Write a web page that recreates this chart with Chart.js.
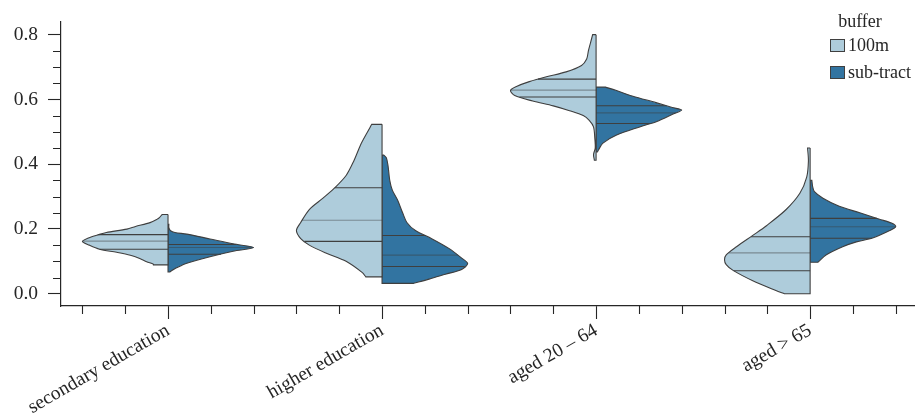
<!DOCTYPE html>
<html>
<head>
<meta charset="utf-8">
<script src="https://cdn.jsdelivr.net/npm/chart.js@4.4.1/dist/chart.umd.min.js"></script>
<style>
  html, body { margin: 0; padding: 0; background: #fff; }
</style>
</head>
<body>
<canvas id="violinChart" width="915" height="415"></canvas>
<script>
const categories = ["secondary education", "higher education", "aged 20 – 64", "aged > 65"];
const groups = ["100m", "sub-tract"];
const yTicks = [0.0, 0.2, 0.4, 0.6, 0.8];

// outline of each half violin, top to bottom: heights and relative density width (1 = widest)
const y100m = [
  [0.2445, 0.235, 0.2295, 0.2195, 0.2075, 0.1995, 0.189, 0.1824, 0.172, 0.1615, 0.150, 0.1374, 0.128, 0.119, 0.109, 0.099, 0.091, 0.089],
  [0.523, 0.490, 0.460, 0.410, 0.365, 0.325, 0.295, 0.260, 0.220, 0.195, 0.170, 0.150, 0.125, 0.100, 0.065, 0.052],
  [0.80, 0.77, 0.75, 0.725, 0.705, 0.685, 0.67, 0.655, 0.64, 0.628, 0.612, 0.595, 0.58, 0.565, 0.55, 0.535, 0.515, 0.48, 0.45, 0.43, 0.412],
  [0.45, 0.41, 0.36, 0.31, 0.26, 0.21, 0.18, 0.145, 0.12, 0.105, 0.09, 0.072, 0.04, 0.01, 0.0]
];
const w100m = [
  [0.07, 0.10, 0.13, 0.21, 0.38, 0.48, 0.72, 0.81, 0.93, 1.00, 0.92, 0.80, 0.60, 0.44, 0.33, 0.25, 0.17, 0.17],
  [0.12, 0.19, 0.25, 0.33, 0.42, 0.56, 0.69, 0.85, 0.95, 1.00, 0.95, 0.85, 0.65, 0.42, 0.23, 0.19],
  [0.04, 0.07, 0.09, 0.11, 0.17, 0.35, 0.58, 0.78, 0.93, 1.00, 0.95, 0.74, 0.50, 0.31, 0.15, 0.08, 0.03, 0.015, 0.01, 0.03, 0.02],
  [0.03, 0.02, 0.04, 0.12, 0.28, 0.51, 0.67, 0.86, 0.98, 1.00, 0.98, 0.90, 0.67, 0.40, 0.30]
];
const ySubTract = [
  [0.214, 0.204, 0.1944, 0.189, 0.184, 0.169, 0.154, 0.1425, 0.131, 0.114, 0.094, 0.080, 0.074, 0.067],
  [0.428, 0.42, 0.395, 0.35, 0.32, 0.29, 0.25, 0.22, 0.195, 0.17, 0.14, 0.11, 0.093, 0.075, 0.06, 0.045, 0.032],
  [0.638, 0.628, 0.61, 0.59, 0.575, 0.567, 0.555, 0.532, 0.515, 0.49, 0.465, 0.445, 0.438],
  [0.35, 0.33, 0.315, 0.295, 0.27, 0.25, 0.23, 0.218, 0.207, 0.195, 0.172, 0.16, 0.145, 0.12, 0.097]
];
const wSubTract = [
  [0.01, 0.01, 0.03, 0.08, 0.22, 0.49, 0.76, 1.00, 0.76, 0.49, 0.22, 0.10, 0.06, 0.02],
  [0.02, 0.05, 0.07, 0.09, 0.12, 0.18, 0.24, 0.29, 0.39, 0.58, 0.78, 0.93, 1.00, 0.93, 0.74, 0.55, 0.37],
  [0.11, 0.23, 0.43, 0.70, 0.89, 1.00, 0.90, 0.71, 0.51, 0.24, 0.08, 0.03, 0.015],
  [0.02, 0.03, 0.05, 0.15, 0.34, 0.58, 0.81, 0.95, 1.00, 0.93, 0.73, 0.54, 0.38, 0.19, 0.09]
];
// quartiles [q1, median, q3]
const quart100m = [[0.1374, 0.1624, 0.1824], [0.1615, 0.227, 0.327], [0.6075, 0.6286, 0.6626], [0.071, 0.126, 0.176]];
const quartSubTract = [[0.122, 0.1425, 0.152], [0.084, 0.119, 0.1795], [0.5254, 0.5585, 0.5805], [0.1714, 0.2066, 0.2326]];

const fillColors = ["#aeccdb", "#3274a1"];
const edge = "#3f3f3f";
const ink = "#262626";
const serif = "'Liberation Serif', 'Times New Roman', serif";
const halfWidth = 0.4;

// corners are given twice so the smoothed line keeps them sharp
function outline(ci, side, ys, ws) {
  const last = ys.length - 1;
  const top = {x: ci, y: ys[0]};
  const bottom = {x: ci, y: ys[last]};
  const pts = [top, top];
  ys.forEach((y, k) => {
    const p = {x: ci + side * halfWidth * ws[k], y: y};
    pts.push(p);
    if (k === 0 || k === last) pts.push(p);
  });
  pts.push(bottom, bottom, top);
  return pts;
}

function widthAt(ys, ws, q) {
  for (let k = 0; k < ys.length - 1; k++) {
    if (ys[k] >= q && q >= ys[k + 1]) {
      const t = (ys[k] - q) / (ys[k] - ys[k + 1] || 1);
      return ws[k] + t * (ws[k + 1] - ws[k]);
    }
  }
  return 0;
}

const datasets = [];
[[y100m, w100m, quart100m, -1], [ySubTract, wSubTract, quartSubTract, 1]].forEach(([ys, ws, qs, side], g) => {
  categories.forEach((c, i) => {
    datasets.push({
      data: outline(i, side, ys[i], ws[i]),
      showLine: true, fill: 'shape', backgroundColor: fillColors[g],
      borderColor: edge, borderWidth: 1.1, pointRadius: 0, tension: 0.3, order: 2
    });
    qs[i].forEach((q, k) => {
      const w = widthAt(ys[i], ws[i], q);
      datasets.push({
        data: [{x: i, y: q}, {x: i + side * halfWidth * w, y: q}],
        showLine: true, fill: false, pointRadius: 0, borderWidth: 1.1,
        borderColor: k === 1 ? "rgba(60,60,60,0.45)" : edge, order: 1
      });
    });
  });
});

const minorTicks = {
  id: 'minorTicks',
  afterDraw(chart) {
    const {ctx, scales: {x, y}} = chart;
    ctx.save();
    ctx.strokeStyle = ink;
    ctx.lineWidth = 1.1;
    ctx.beginPath();
    for (let k = -2; k <= 17; k++) {
      if (k % 5 === 0) continue;
      const px = Math.round(x.getPixelForValue(k / 5)) + 0.5;
      ctx.moveTo(px, x.top);
      ctx.lineTo(px, x.top + 8);
    }
    for (let k = 0; k <= 16; k++) {
      if (k % 4 === 0) continue;
      const py = Math.round(y.getPixelForValue(k * 0.05)) + 0.5;
      ctx.moveTo(y.right, py);
      ctx.lineTo(y.right - 8, py);
    }
    ctx.stroke();
    ctx.restore();
  }
};

const legendBox = {
  id: 'legendBox',
  afterDraw(chart) {
    const ctx = chart.ctx;
    ctx.save();
    ctx.font = "18px " + serif;
    ctx.fillStyle = ink;
    ctx.textBaseline = "alphabetic";
    ctx.textAlign = "center";
    ctx.fillText("buffer", 860, 27);
    ctx.textAlign = "left";
    groups.forEach((g, k) => {
      const top = 39 + k * 27;
      ctx.fillStyle = fillColors[k];
      ctx.fillRect(830, top, 14, 12);
      ctx.strokeStyle = edge;
      ctx.lineWidth = 1;
      ctx.strokeRect(830.5, top + 0.5, 14, 12);
      ctx.fillStyle = ink;
      ctx.fillText(g, 848, top + 12);
    });
    ctx.restore();
  }
};

new Chart(document.getElementById("violinChart"), {
  type: "scatter",
  data: { datasets: datasets },
  options: {
    responsive: false,
    animation: false,
    events: [],
    layout: { padding: { top: 13, right: 0, left: 0, bottom: 0 } },
    plugins: { legend: { display: false }, tooltip: { enabled: false } },
    scales: {
      x: {
        type: "linear", min: -0.5, max: 3.49,
        afterBuildTicks: s => { s.ticks = categories.map((c, i) => ({value: i})); },
        afterFit: s => { s.height = 109; },
        ticks: {
          autoSkip: false, maxRotation: 30, minRotation: 30, padding: 0,
          color: ink, font: { family: serif, size: 19.5 },
          callback: v => categories[v]
        },
        grid: { drawOnChartArea: false, tickLength: 13, tickColor: ink, tickWidth: 1.1 },
        border: { color: ink, width: 1.2 }
      },
      y: {
        type: "linear", min: -0.038, max: 0.84,
        afterBuildTicks: s => { s.ticks = yTicks.map(v => ({value: v})); },
        afterFit: s => { s.width = 61; },
        ticks: {
          padding: 10, color: ink, font: { family: serif, size: 19.5 },
          callback: v => v.toFixed(1)
        },
        grid: { drawOnChartArea: false, tickLength: 13, tickColor: ink, tickWidth: 1.1 },
        border: { color: ink, width: 1.2 }
      }
    }
  },
  plugins: [minorTicks, legendBox]
});
</script>
</body>
</html>
